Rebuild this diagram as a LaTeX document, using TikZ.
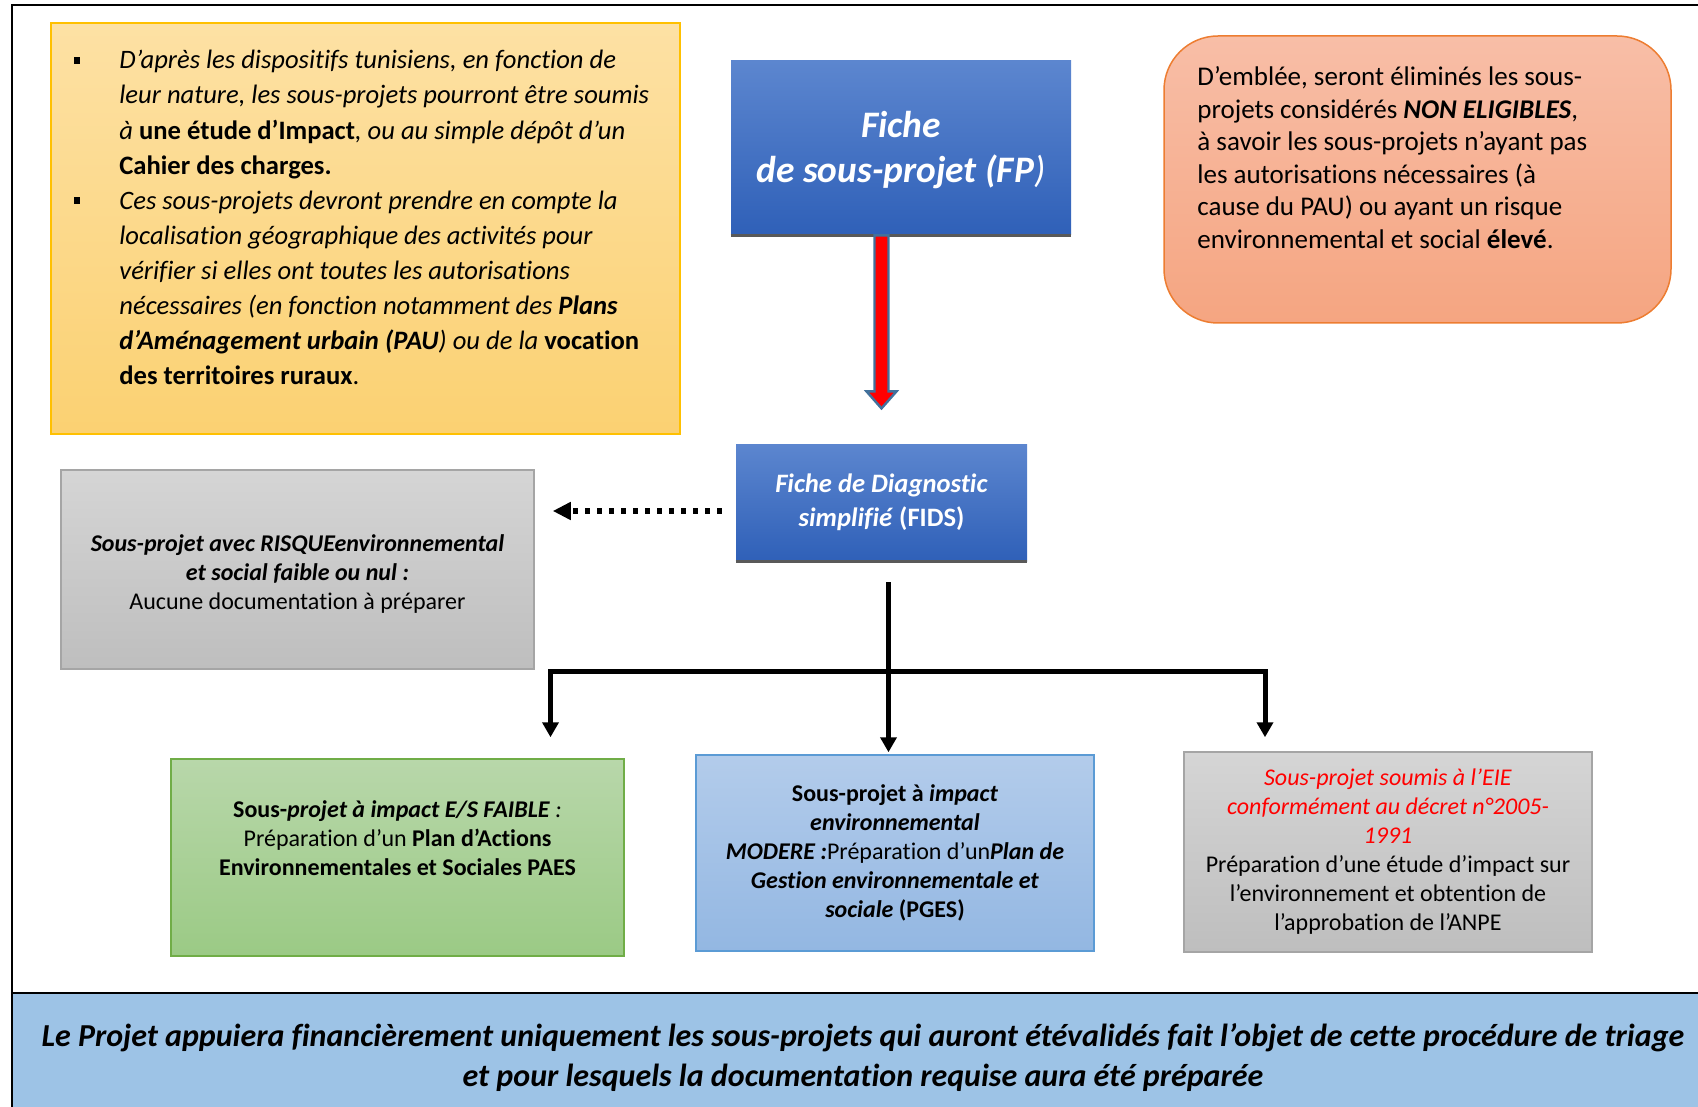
\documentclass[tikz,border=0pt]{standalone}
\usepackage{fontspec}
\setmainfont{Carlito}[Ligatures=NoCommon]
\usetikzlibrary{arrows.meta,calc,positioning}

\definecolor{jauneH}{HTML}{FDE1A4}
\definecolor{jauneB}{HTML}{FBD172}
\definecolor{jauneT}{HTML}{FFC000}
\definecolor{bleuH}{HTML}{5C86CF}
\definecolor{bleuB}{HTML}{2F60B8}
\definecolor{saumonH}{HTML}{F8BEA7}
\definecolor{saumonB}{HTML}{F5A581}
\definecolor{saumonT}{HTML}{ED7D31}
\definecolor{grisH}{HTML}{D5D5D5}
\definecolor{grisB}{HTML}{BEBEBE}
\definecolor{grisT}{HTML}{A5A5A5}
\definecolor{vertH}{HTML}{B8D7AA}
\definecolor{vertB}{HTML}{9BCA85}
\definecolor{vertT}{HTML}{70AD47}
\definecolor{cielH}{HTML}{B3CCEB}
\definecolor{cielB}{HTML}{93B7E2}
\definecolor{cielT}{HTML}{5B9BD5}
\definecolor{bande}{HTML}{9DC3E6}
\definecolor{contour}{HTML}{41719C}
\definecolor{ombre}{HTML}{595959}

\newcommand{\grasit}[1]{\textbf{\textit{#1}}}
\newcommand{\puce}{\llap{\raisebox{0.2em}{\rule{3.4pt}{3.4pt}}\hspace{19.5pt}}}

\tikzset{
  boite/.style={draw, line width=0.75pt, inner sep=0pt, align=center},
  jaune/.style={boite, draw=jauneT, top color=jauneH, bottom color=jauneB},
  saumon/.style={boite, draw=saumonT, top color=saumonH, bottom color=saumonB, rounded corners=27pt},
  gris/.style={boite, draw=grisT, top color=grisH, bottom color=grisB},
  vert/.style={boite, draw=vertT, top color=vertH, bottom color=vertB},
  ciel/.style={boite, draw=cielT, top color=cielH, bottom color=cielB},
  fiche/.style={inner sep=0pt, align=center, text=white, top color=bleuH, bottom color=bleuB},
  onze/.style={font=\fontsize{12}{14.5}\selectfont},
  douze/.style={font=\fontsize{13.5}{16.3}\selectfont},
  arbre/.style={line width=2.5pt, -{Triangle[length=7.5pt,width=8pt]}},
}

\begin{document}
\begin{tikzpicture}[x=0.5pt,y=-0.5pt]
  \useasboundingbox (0,0) rectangle (1698,1107);

  % cadre general
  \fill[bande] (13,993) rectangle (1698,1107);
  \draw[line width=1.3pt] (1698,5) -- (12,5) -- (12,1107);
  \draw[line width=1pt] (12,993) -- (1698,993);

  % les cases
  \node[jaune, minimum width=314.5pt, minimum height=205.5pt] (cadre) at (365.5,228.5) {};
  \node[anchor=north west, inner sep=0pt, align=left, font=\fontsize{13.3}{17.55}\selectfont]
    (cadretxt) at (119,50) {%
    \puce\textit{D’après les dispositifs tunisiens, en fonction de}\\
    \textit{leur nature, les sous-projets pourront être soumis}\\
    \textit{à} \textbf{une étude d’Impact}\textit{, ou au simple dépôt d’un}\\
    \textbf{Cahier des charges.}\\
    \puce\textit{Ces sous-projets devront prendre en compte la}\\
    \textit{localisation géographique des activités pour}\\
    \textit{vérifier si elles ont toutes les autorisations}\\
    \textit{nécessaires (en fonction notamment des \textbf{Plans}}\\
    \grasit{d’Aménagement urbain (PAU}\textit{) ou de la} \textbf{vocation}\\
    \textbf{des territoires ruraux}.};

  \node[fiche, minimum width=170pt, minimum height=87pt, font=\fontsize{18.7}{22.7}\selectfont]
    (FP) at (901,148) {\rule{0pt}{15pt}\grasit{Fiche}\\ \grasit{de sous-projet (FP}\textit{)}};
  \draw[ombre, line width=1.75pt] (FP.south west) -- (FP.south east);

  \node[saumon, minimum width=253.5pt, minimum height=143.5pt] (elimine) at (1417.5,179.5) {};
  \node[anchor=north west, inner sep=0pt, align=left, douze] (eliminetxt) at (1197,66) {%
    D’emblée, seront éliminés les sous-\\
    projets considérés \grasit{NON ELIGIBLES},\\
    à savoir les sous-projets n’ayant pas\\
    les autorisations nécessaires (à\\
    cause du PAU) ou ayant un risque\\
    environnemental et social \textbf{élevé}.};

  \node[fiche, minimum width=145.5pt, minimum height=58.5pt, font=\fontsize{13.3}{16.8}\selectfont]
    (FIDS) at (881.5,502.5) {\grasit{Fiche de Diagnostic}\\ \grasit{simplifié} \textbf{(FIDS)}};
  \draw[ombre, line width=1.75pt] (FIDS.south west) -- (FIDS.south east);

  \node[gris, onze, minimum width=236.5pt, minimum height=99.5pt] (nul) at (297.5,569.5) {%
    \rule{0pt}{13pt}\grasit{Sous-projet avec RISQUEenvironnemental}\\
    \grasit{et social faible ou nul :}\\
    Aucune documentation à préparer};

  \node[vert, minimum width=226.5pt, minimum height=98.5pt] (faible) at (397.5,857.5) {};
  \node[anchor=north, inner sep=0pt, align=center, onze] (faibletxt) at ([yshift=-21pt]faible.north) {%
    \textbf{Sous-}\grasit{projet à impact E/S FAIBLE} \textit{:}\\
    Préparation d’un \textbf{Plan d’Actions}\\
    \textbf{Environnementales et Sociales PAES}};

  \node[ciel, onze, minimum width=199pt, minimum height=98pt] (modere) at (895,853) {%
    \textbf{Sous-projet à} \grasit{impact}\\
    \grasit{environnemental}\\
    \grasit{MODERE :}Préparation d’un\grasit{Plan de}\\
    \grasit{Gestion environnementale et}\\
    \grasit{sociale} \textbf{(PGES)}};

  \node[gris, onze, minimum width=204pt, minimum height=100pt] (eie) at (1388,852) {%
    \textcolor{red}{\textit{Sous-projet soumis à l’EIE}}\\
    \textcolor{red}{\textit{conformément au décret n°2005-}}\\
    \textcolor{red}{\textit{1991}}\\
    Préparation d’une étude d’impact sur\\
    l’environnement et obtention de\\
    l’approbation de l’ANPE};

  \node[inner sep=0pt, align=center, font=\fontsize{16}{20}\selectfont] (conclusion) at (863,1057) {%
    \grasit{Le Projet appuiera financièrement uniquement les sous-projets qui auront étévalidés fait l’objet de cette procédure de triage}\\
    \grasit{et pour lesquels la documentation requise aura été préparée}};

  % fleche rouge FP -> FIDS
  \coordinate (rouge) at (FP.south -| FIDS.north);
  \draw[contour, fill=red, line width=1.2pt, line join=miter]
    (rouge) ++(-7,0) -- ++(0,156) -- ++(-8,0) -- ++(15,17) -- ++(15,-17) -- ++(-8,0) -- ++(0,-156) -- cycle;

  % fleche pointillee FIDS -> risque nul
  \draw[line width=3pt, dash pattern=on 2.35pt off 3.65pt, -{Triangle[length=9pt,width=8.5pt]},
        shorten <=7pt, shorten >=9pt]
    ([yshift=-4.25pt]FIDS.west) -- ([yshift=-4.25pt]FIDS.west -| nul.east);

  % arborescence
  \coordinate (hub) at (888.5,671);
  \coordinate (gauche) at (550.5,671);
  \coordinate (droite) at (1265,671);
  \draw[arbre, shorten <=10.5pt, shorten >=1pt] (FIDS.south -| hub) -- (hub |- modere.north);
  \draw[arbre, {Triangle[length=7.5pt,width=8pt]}-{Triangle[length=7.5pt,width=8pt]},
        shorten <=10.5pt, shorten >=7pt]
    (gauche |- faible.north) -- (gauche) -- (droite) -- (droite |- eie.north);
\end{tikzpicture}
\end{document}
